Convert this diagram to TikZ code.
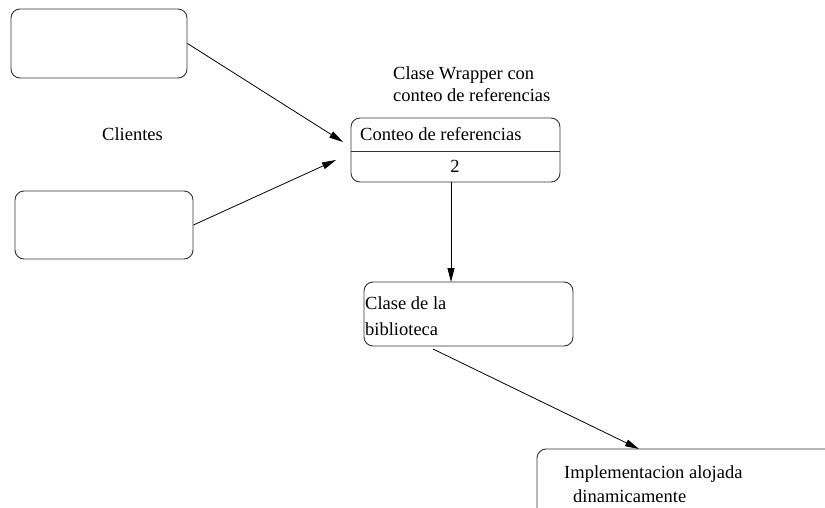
\documentclass[tikz,border=0pt]{standalone}
\usepackage{fontspec}
\setmainfont{Liberation Serif}
\usetikzlibrary{arrows.meta}
\begin{document}
\begin{tikzpicture}[x=1pt,y=-1pt,
  box/.style={draw=black!80, line width=0.9pt, rounded corners=9pt, inner sep=0pt},
  lbl/.style={anchor=base west, inner sep=0pt, font=\fontsize{18.5}{22}\selectfont},
  link/.style={line width=0.8pt, -{Triangle[length=14pt,width=7pt]}}]
\useasboundingbox (0,0) rectangle (825,508);
\clip (0,0) rectangle (825,508);

% client boxes
\node[box, minimum width=176pt, minimum height=69pt] (c1) at (99,43.5) {};
\node[box, minimum width=178pt, minimum height=68pt] (c2) at (104,225) {};
\node[lbl] (clientes) at (102,141) {Clientes};

% wrapper class with its reference counter
\node[lbl] (wraptitle1) at (393,80) {Clase Wrapper con};
\node[lbl] (wraptitle2) at (393,102) {conteo de referencias};
\node[box, minimum width=209pt, minimum height=64pt] (wrap) at (455.5,150) {};
\draw[draw=black!80, line width=0.9pt] ([yshift=-1pt]wrap.west) -- ([yshift=-1pt]wrap.east);
\node[lbl] (count) at (360,141) {Conteo de referencias};
\node[lbl, anchor=base] (two) at (455,173) {2};

% library class
\node[box, minimum width=209pt, minimum height=64pt] (lib) at (468.5,314) {};
\node[lbl] (lib1) at (365,309) {Clase de la};
\node[lbl] (lib2) at (365,335) {biblioteca};

% dynamically allocated implementation
\node[box, minimum width=333pt, minimum height=91pt] (impl) at (703.5,494.5) {};
\node[lbl] (impl1) at (564,478) {Implementacion alojada};
\node[lbl] (impl2) at (573,502) {dinamicamente};

% connector end points
\coordinate (t1) at (343,142);
\coordinate (t2) at (336,160);
\coordinate (v1) at (451,182);
\coordinate (v2) at (451,282);
\coordinate (d1) at (433,349);
\coordinate (d2) at (639,449);

\draw[link] (c1.east) -- (t1);
\draw[link] (c2.east) -- (t2);
\draw[link] (v1) -- (v2);
\draw[link] (d1) -- (d2);
\end{tikzpicture}
\end{document}
